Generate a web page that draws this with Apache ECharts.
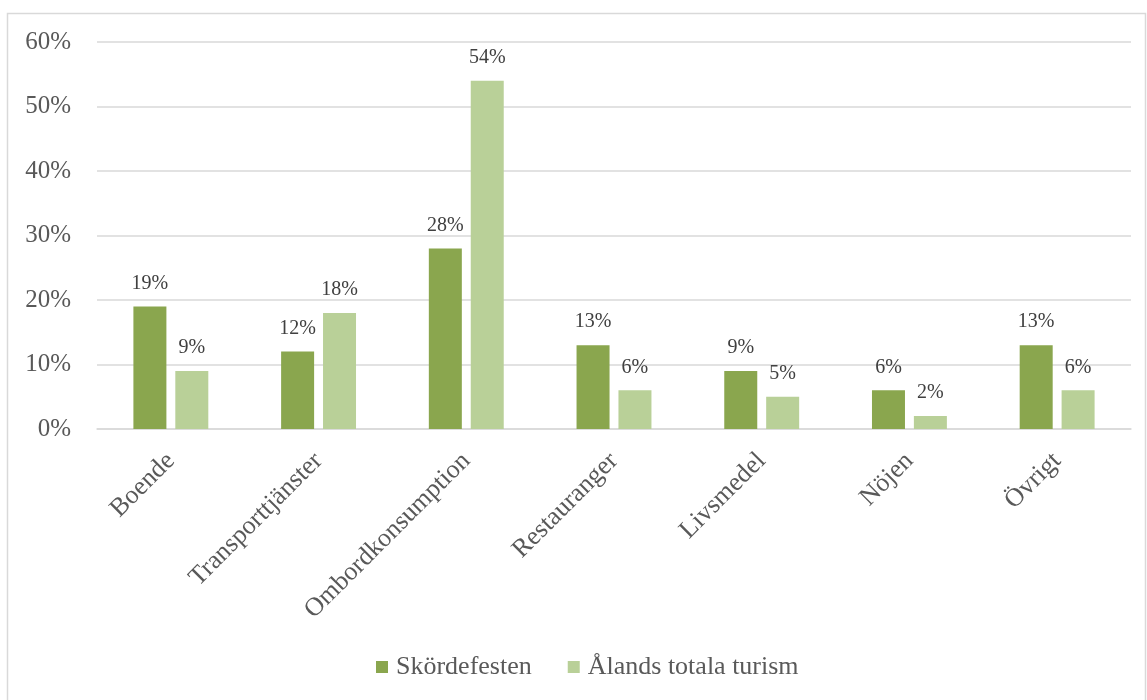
<!DOCTYPE html>
<html><head><meta charset="utf-8">
<script src="https://cdn.jsdelivr.net/npm/echarts@6/dist/echarts.min.js"></script>
<style>html,body{margin:0;padding:0;background:#fff}#c{width:1147px;height:700px}</style>
</head><body><div id="c"></div>
<script>
const categories = ['Boende','Transporttjänster','Ombordkonsumption','Restauranger','Livsmedel','Nöjen','Övrigt'];
const skordefesten = [19,12,28,13,9,6,13];
const alandsTotala = [9,18,54,6,5,2,6];
const seriesNames = ['Skördefesten','Ålands totala turism'];
const font = '"Liberation Serif","Times New Roman",serif';
const chart = echarts.init(document.getElementById('c'));
const lbl = {show:true, position:'top', distance:13, formatter:'{c}%', fontFamily:font, fontSize:20, color:'#404040'};
chart.setOption({
  animation:false,
  graphic:[{type:'rect', shape:{x:7.5,y:13.5,width:1138,height:700}, style:{fill:'none', stroke:'#d9d9d9', lineWidth:1.5}, silent:true}],
  grid:{left:97, right:16, top:42, bottom:271, containLabel:false},
  legend:{bottom:15, left:371, itemWidth:12, itemHeight:12, itemGap:36, icon:'rect',
    textStyle:{fontFamily:font, fontSize:26, color:'#595959', padding:[0,0,0,3]}, data:seriesNames},
  xAxis:{type:'category', data:categories,
    axisLine:{lineStyle:{color:'#d9d9d9', width:1.5}}, axisTick:{show:false},
    axisLabel:{rotate:45, fontFamily:font, fontSize:26, color:'#595959', margin:28, interval:0}},
  yAxis:{type:'value', min:0, max:60, interval:10,
    axisLine:{show:false}, axisTick:{show:false},
    splitLine:{lineStyle:{color:'#d9d9d9', width:1.5}},
    axisLabel:{formatter:'{value}%', fontFamily:font, fontSize:25, color:'#595959', margin:26}},
  series:[
    {name:seriesNames[0], type:'bar', data:skordefesten, barWidth:33, barGap:'27%', itemStyle:{color:'#8aa64e'}, label:lbl},
    {name:seriesNames[1], type:'bar', data:alandsTotala, barWidth:33, itemStyle:{color:'#b9d098'}, label:lbl}
  ]
});
</script></body></html>
